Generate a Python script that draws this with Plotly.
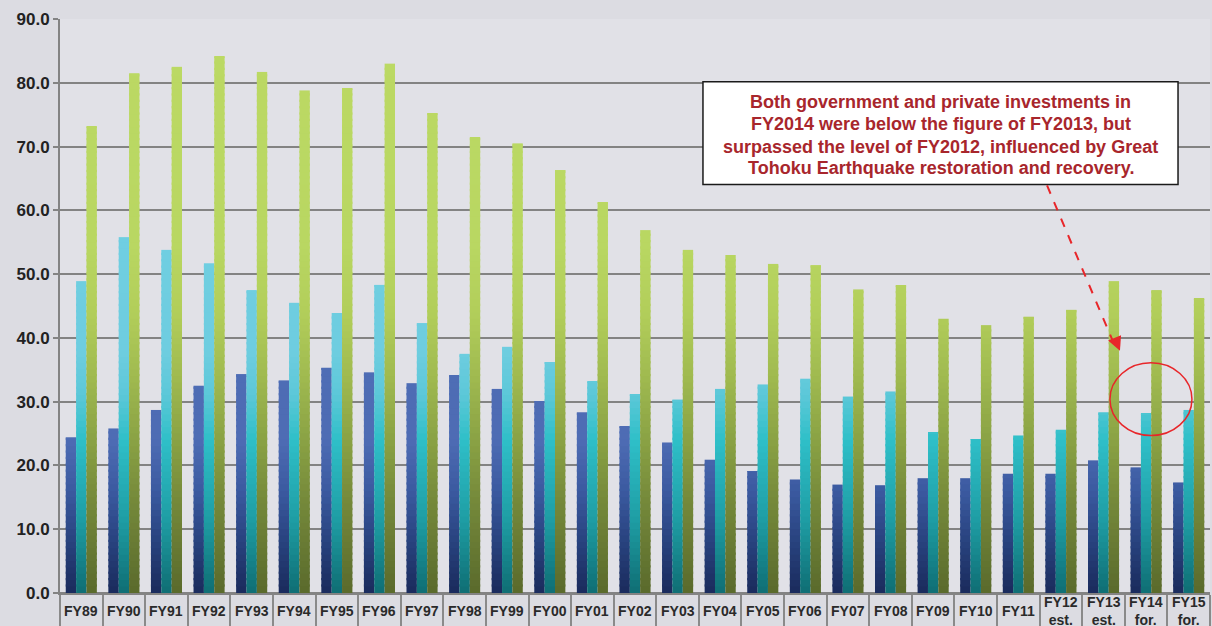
import plotly.graph_objects as go

# Construction investment by fiscal year (trillion yen)
categories = ["FY89", "FY90", "FY91", "FY92", "FY93", "FY94", "FY95", "FY96", "FY97",
              "FY98", "FY99", "FY00", "FY01", "FY02", "FY03", "FY04", "FY05", "FY06",
              "FY07", "FY08", "FY09", "FY10", "FY11", "FY12", "FY13", "FY14", "FY15"]
tick_labels = ["FY89", "FY90", "FY91", "FY92", "FY93", "FY94", "FY95", "FY96", "FY97",
               "FY98", "FY99", "FY00", "FY01", "FY02", "FY03", "FY04", "FY05", "FY06",
               "FY07", "FY08", "FY09", "FY10", "FY11", "FY12<br>est.", "FY13<br>est.",
               "FY14<br>for.", "FY15<br>for."]
government = [24.4, 25.8, 28.7, 32.5, 34.3, 33.3, 35.3, 34.6, 32.9,
              34.1, 32.0, 30.1, 28.3, 26.1, 23.6, 20.9, 19.1, 17.8,
              17.0, 16.9, 18.0, 18.0, 18.7, 18.7, 20.8, 19.7, 17.3]
private = [48.9, 55.8, 53.8, 51.7, 47.5, 45.5, 43.9, 48.3, 42.3,
           37.5, 38.6, 36.2, 33.1, 31.1, 30.3, 32.0, 32.7, 33.6,
           30.8, 31.6, 25.2, 24.1, 24.7, 25.6, 28.3, 28.1, 28.7]
total = [73.1, 81.5, 82.5, 84.1, 81.7, 78.8, 79.1, 83.0, 75.2,
         71.5, 70.5, 66.3, 61.2, 56.9, 53.8, 53.0, 51.6, 51.4,
         47.6, 48.2, 43.0, 42.0, 43.3, 44.4, 48.9, 47.5, 46.1]

note_lines = [
    "Both government and private investments in",
    "FY2014 were below the figure of FY2013, but",
    "surpassed the level of FY2012, influenced by Great",
    "Tohoku Earthquake restoration and recovery.",
]

FONT = "Liberation Sans, Arial, sans-serif"

# Vertical colour ramps (value on the axis -> colour) for each series
series = [
    ("Government investment", government,
     [(0, "#1a2b5c"), (8, "#28427e"), (16, "#3b5aa0"), (24, "#4e6cb4"), (90, "#5070b8")]),
    ("Private investment", private,
     [(0, "#0f6e74"), (12, "#1f9fa6"), (24, "#2fbfc8"), (31, "#5cc8d8"), (38, "#6ecde0"), (90, "#72d0e2")]),
    ("Total", total,
     [(0, "#5a6a2c"), (14, "#74883a"), (24, "#8aa244"), (34, "#a0ba50"), (44, "#b2ce5a"), (55, "#b9d762"), (90, "#bcd964")]),
]


def hex_to_rgb(h):
    h = h.lstrip("#")
    return tuple(int(h[i:i + 2], 16) for i in (0, 2, 4))


def shade(stops, v):
    for (v0, c0), (v1, c1) in zip(stops, stops[1:]):
        if v0 <= v <= v1:
            t = (v - v0) / (v1 - v0)
            a, b = hex_to_rgb(c0), hex_to_rgb(c1)
            r, g, bl = (round(a[i] + (b[i] - a[i]) * t) for i in range(3))
            return f"rgb({r},{g},{bl})"
    return stops[-1][1]


fig = go.Figure()

# Each bar is built from thin bands along the value axis so it carries a vertical
# gradient; every band reaches slightly into the next one to avoid hairline seams.
STEP = 1.0
OVERLAP = 0.35
for name, values, stops in series:
    n_bands = int(max(values) / STEP) + 1
    for k in range(n_bands):
        lo = k * STEP
        hi = lo + STEP + OVERLAP
        seg = [max(0.0, min(v, hi) - lo) for v in values]
        fig.add_trace(go.Bar(
            x=categories, y=seg, base=[lo] * len(values),
            offsetgroup=name, name=name, showlegend=False,
            marker=dict(color=shade(stops, lo + STEP / 2), line=dict(width=0)),
            customdata=values,
            hovertemplate="%{x}: %{customdata:.1f}<extra>" + name + "</extra>",
        ))

fig.update_layout(
    width=1212, height=626,
    margin=dict(l=60, r=2, t=19, b=31),
    paper_bgcolor="#dcdce2",
    plot_bgcolor="#e1e1e7",
    barmode="group",
    bargap=0.27,
    bargroupgap=0.0,
    font=dict(family=FONT, color="#222222"),
    showlegend=False,
)

fig.update_yaxes(
    range=[0, 90], dtick=10, tickformat=".1f",
    showgrid=True, gridcolor="#838383", gridwidth=2,
    zeroline=True, zerolinecolor="#838383", zerolinewidth=2,
    showline=True, linecolor="#838383", linewidth=2,
    ticks="outside", ticklen=5, tickwidth=2, tickcolor="#838383",
    tickfont=dict(family=FONT, size=17, color="#222222", weight="bold"),
)

fig.update_xaxes(
    type="category", range=[-0.5, len(categories) - 0.5],
    showticklabels=False,
    ticks="outside", tickson="boundaries", ticklen=31, tickwidth=2, tickcolor="#8a8a8a",
    showline=True, linecolor="#838383", linewidth=2,
    showgrid=False,
)

# Category labels in the cells under the axis
for cat, lab in zip(categories, tick_labels):
    fig.add_annotation(
        x=cat, y=-0.0321, xref="x", yref="paper",
        text=lab, showarrow=False, yanchor="middle", xanchor="center",
        font=dict(family=FONT, size=14, color="#2a2a2a", weight="bold"),
    )

# Note box
fig.add_shape(type="rect", xref="paper", yref="paper",
              x0=0.5591, x1=0.9722, y0=0.7118, y1=0.8906,
              fillcolor="white", line=dict(color="#1a1a1a", width=1.5), layer="above")
line_y = [102, 124.5, 147, 169]
for txt, py in zip(note_lines, line_y):
    fig.add_annotation(
        x=0.7657, y=(595 - py) / 576, xref="paper", yref="paper",
        text=txt, showarrow=False, xanchor="center", yanchor="middle",
        font=dict(family=FONT, size=18, color="#a8262c", weight="bold"),
    )

# Dashed pointer from the note to the FY14 bars
fig.add_shape(type="line", xref="paper", yref="paper",
              x0=0.8583, y0=0.7100, x1=0.9165, y1=0.4340,
              line=dict(color="#e8262a", width=2, dash="dash"))
fig.add_annotation(
    x=0.9217, y=0.4219, xref="paper", yref="paper", text="",
    showarrow=True, arrowhead=2, arrowsize=1.4, arrowwidth=2, arrowcolor="#e8262a",
    ax=-5, ay=-12, axref="pixel", ayref="pixel", standoff=0,
)

# Circle around FY14
fig.add_shape(type="circle", xref="paper", yref="paper",
              x0=0.9130, x1=0.9843, y0=0.2743, y1=0.4010,
              line=dict(color="#e8262a", width=1.5))

fig.write_html("out.html")
